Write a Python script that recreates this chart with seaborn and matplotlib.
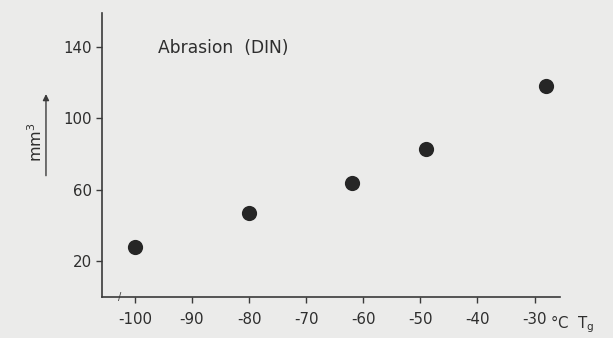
import matplotlib
matplotlib.use("Agg")
import matplotlib.pyplot as plt
import seaborn as sns
import pandas as pd

# Data
tg = [-100, -80, -62, -49, -28]
abrasion = [28, 47, 64, 83, 118]
x_ticks = [-100, -90, -80, -70, -60, -50, -40, -30]
y_ticks = [20, 60, 100, 140]

df = pd.DataFrame({"Tg": tg, "Abrasion": abrasion})

sns.set_style("ticks")
plt.rcParams['font.family'] = ['DejaVu Sans']
bg = "#ebebea"
ink = "#2e2e2e"

fig = plt.figure(figsize=(6.13, 3.38), dpi=100, facecolor=bg)
ax = fig.add_axes([0.166, 0.121, 0.747, 0.841])
ax.set_facecolor(bg)

sns.scatterplot(data=df, x="Tg", y="Abrasion", ax=ax, s=120, color="#262626",
                edgecolor="#262626", linewidth=0, legend=False)

ax.set_xlim(-105.8, -25.6)
ax.set_ylim(0, 159)
ax.set_xticks(x_ticks)
ax.set_xticklabels([str(v) for v in x_ticks])
ax.set_yticks(y_ticks)
ax.set_yticklabels([str(v) for v in y_ticks])
ax.set_xlabel("")
ax.set_ylabel("")
for s in ["top", "right"]:
    ax.spines[s].set_visible(False)
for s in ["left", "bottom"]:
    ax.spines[s].set_color("#3a3a3a")
    ax.spines[s].set_linewidth(1.2)
ax.tick_params(axis="both", colors="#3a3a3a", labelcolor=ink, labelsize=10.8,
               length=4, width=1.0, direction="out")
ax.tick_params(axis="x", pad=7)
ax.tick_params(axis="y", pad=3)

# title inside the plot
ax.text(0.122, 0.877, "Abrasion  (DIN)", transform=ax.transAxes, fontsize=12.3,
        color=ink, ha="left", va="center")

# unit label with arrow
fig.text(0.058, 0.58, "mm$^3$", rotation=90, fontsize=11.5, color=ink,
         ha="center", va="center")
ax.annotate("", xy=(0.075, 0.73), xytext=(0.075, 0.472), xycoords="figure fraction",
            textcoords="figure fraction",
            arrowprops=dict(arrowstyle="-|>", color="#3a3a3a", lw=1.0,
                            mutation_scale=9))

# x unit label
fig.text(0.897, 0.042, "°C  T$_\\mathregular{g}$", fontsize=10.8, color=ink,
         ha="left", va="center")

# axis break mark
ax.text(-102.6, 0.3, "/", fontsize=7, color="#3a3a3a", ha="center", va="center")

fig.savefig("out.png", dpi=100, facecolor=bg)
